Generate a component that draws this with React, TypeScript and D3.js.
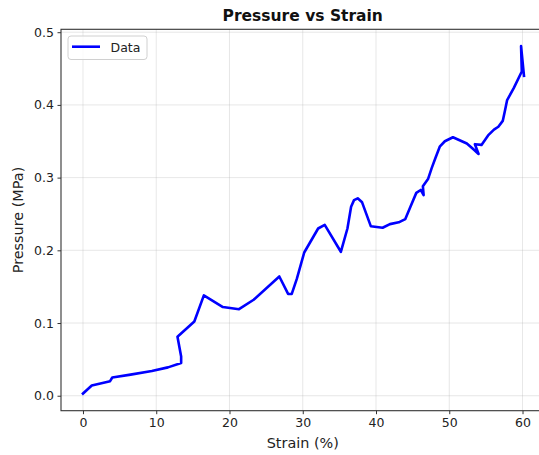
import React, { useEffect, useRef } from 'react';
import * as d3 from 'd3';

// strain (%) and pressure (MPa)
const strain = [
  0, 1.2, 3.7, 4.0, 6.5, 9.4, 11.6, 13.4, 13.4, 12.9, 15.2, 16.5, 19.1, 21.3, 23.3,
  26.8, 28.0, 28.5, 29.2, 30.2, 32.1, 33.0, 35.2, 36.1, 36.6, 37.0, 37.5, 38.1,
  39.3, 40.9, 41.9, 43.1, 44.0, 44.7, 45.5, 46.1, 46.5, 46.4, 47.1, 47.6, 48.1,
  48.7, 49.4, 50.5, 52.4, 53.3, 54.0, 53.5, 54.4, 55.3, 56.1, 56.7, 57.3, 57.6,
  57.9, 58.8, 59.9, 59.8, 60.2,
];
const pressure = [
  0.003, 0.014, 0.02, 0.025, 0.029, 0.034, 0.039, 0.045, 0.054, 0.081, 0.102,
  0.138, 0.122, 0.119, 0.132, 0.164, 0.14, 0.14, 0.161, 0.197, 0.23, 0.235,
  0.198, 0.23, 0.26, 0.269, 0.2715, 0.266, 0.233, 0.231, 0.236, 0.2385, 0.243,
  0.26, 0.279, 0.283, 0.276, 0.288, 0.298, 0.313, 0.3266, 0.3425, 0.35, 0.3555,
  0.347, 0.339, 0.3325, 0.346, 0.345, 0.358, 0.366, 0.37, 0.378, 0.392, 0.4067,
  0.423, 0.446, 0.481, 0.44,
];
const xTicks = [0, 10, 20, 30, 40, 50, 60];
const yTicks = [0, 0.1, 0.2, 0.3, 0.4, 0.5];

const W = 539;
const H = 455;
const FONT = '"DejaVu Sans", sans-serif';

export default function App() {
  const ref = useRef<SVGSVGElement | null>(null);

  useEffect(() => {
    const svg = d3.select(ref.current);
    svg.selectAll('*').remove();

    const left = 61, right = 544.5, top = 29.3, bottom = 410.7;
    const x = d3.scaleLinear().domain([-3, 63]).range([left, right]);
    const y = d3.scaleLinear().domain([-0.0206, 0.504]).range([bottom, top]);

    // grid
    const grid = svg.append('g');
    grid.selectAll('.vx').data(xTicks).enter().append('line')
      .attr('x1', d => x(d)).attr('x2', d => x(d))
      .attr('y1', top).attr('y2', bottom)
      .attr('stroke', '#b0b0b0').attr('stroke-opacity', 0.3).attr('stroke-width', 1);
    grid.selectAll('.hy').data(yTicks).enter().append('line')
      .attr('y1', d => y(d)).attr('y2', d => y(d))
      .attr('x1', left).attr('x2', right)
      .attr('stroke', '#b0b0b0').attr('stroke-opacity', 0.3).attr('stroke-width', 1);

    // data line
    const pts = strain.map((s, i) => [s, pressure[i]] as [number, number]);
    const line = d3.line<[number, number]>().x(d => x(d[0])).y(d => y(d[1]));
    svg.append('path').datum(pts)
      .attr('d', line)
      .attr('fill', 'none')
      .attr('stroke', '#0000ff')
      .attr('stroke-width', 2.6)
      .attr('stroke-linejoin', 'round')
      .attr('stroke-linecap', 'square');

    // axes
    const xAxis = d3.axisBottom(x).tickValues(xTicks).tickSize(3.5).tickPadding(3.5)
      .tickFormat(d3.format('d'));
    const yAxis = d3.axisLeft(y).tickValues(yTicks).tickSize(3.5).tickPadding(3.5)
      .tickFormat(d3.format('.1f'));

    const gx = svg.append('g').attr('transform', `translate(0,${bottom})`).call(xAxis);
    const gy = svg.append('g').attr('transform', `translate(${left},0)`).call(yAxis);
    [gx, gy].forEach(g => {
      g.select('.domain').remove();
      g.selectAll('line').attr('stroke', '#333');
      g.selectAll('text').attr('font-family', FONT).attr('font-size', 12.5).attr('fill', '#222');
    });

    // frame
    svg.append('rect')
      .attr('x', left).attr('y', top)
      .attr('width', right - left).attr('height', bottom - top)
      .attr('fill', 'none').attr('stroke', '#333').attr('stroke-width', 1.1);

    // labels
    svg.append('text')
      .attr('x', (left + right) / 2).attr('y', 20.5)
      .attr('text-anchor', 'middle').attr('font-family', FONT)
      .attr('font-size', 15.5).attr('font-weight', 'bold').attr('fill', '#111')
      .text('Pressure vs Strain');
    svg.append('text')
      .attr('x', (left + right) / 2).attr('y', 448)
      .attr('text-anchor', 'middle').attr('font-family', FONT)
      .attr('font-size', 14.4).attr('fill', '#222')
      .text('Strain (%)');
    svg.append('text')
      .attr('transform', `translate(23,${(top + bottom) / 2}) rotate(-90)`)
      .attr('text-anchor', 'middle').attr('font-family', FONT)
      .attr('font-size', 14.4).attr('fill', '#222')
      .text('Pressure (MPa)');

    // legend
    const lg = svg.append('g');
    lg.append('rect')
      .attr('x', 68).attr('y', 36).attr('width', 79).attr('height', 23.5)
      .attr('rx', 3).attr('fill', '#fff').attr('fill-opacity', 0.8)
      .attr('stroke', '#d0d0d0').attr('stroke-width', 1);
    lg.append('line')
      .attr('x1', 72).attr('x2', 100).attr('y1', 46.7).attr('y2', 46.7)
      .attr('stroke', '#0000ff').attr('stroke-width', 2.6);
    lg.append('text')
      .attr('x', 110.5).attr('y', 51.5)
      .attr('font-family', FONT).attr('font-size', 12.5).attr('fill', '#222')
      .text('Data');
  }, []);

  return (
    <div style={{ position: 'absolute', left: 0, top: 0 }}>
      <svg ref={ref} width={W} height={H} style={{ display: 'block', background: '#fff' }} />
    </div>
  );
}
